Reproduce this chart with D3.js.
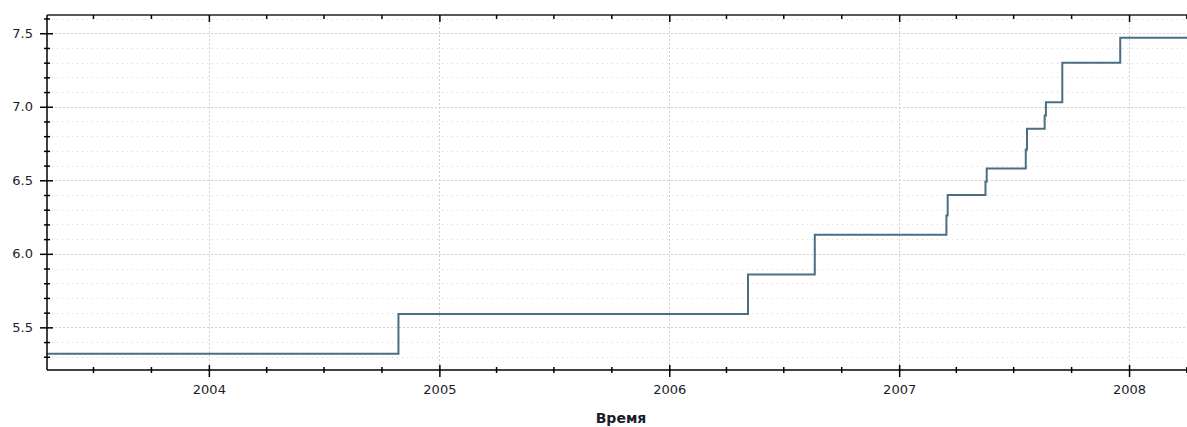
<!DOCTYPE html>
<html>
<head>
<meta charset="utf-8">
<script src="https://cdn.jsdelivr.net/npm/d3@7"></script>
<style>
  html, body { margin: 0; padding: 0; background: #fff; }
  svg { display: block; }
  text { font-family: "DejaVu Sans", Verdana, sans-serif; }
</style>
</head>
<body>
<svg id="chart" width="1187" height="427"></svg>
<script>
// Step series: date of change and the new value
const dates = ["2003-04-19", "2004-10-28", "2006-05-06", "2006-08-20", "2007-03-17", "2007-03-19",
               "2007-05-18", "2007-05-20", "2007-07-21", "2007-07-23", "2007-08-20", "2007-08-22",
               "2007-09-17", "2007-12-18", "2008-04-02"];
const values = [5.32, 5.59, 5.86, 6.13, 6.26, 6.40, 6.49, 6.58, 6.71, 6.85, 6.94, 7.03, 7.30, 7.47, 7.47];
const yTickLabels = ["5.5", "6.0", "6.5", "7.0", "7.5"];
const xTickLabels = ["2004", "2005", "2006", "2007", "2008"];
const xAxisTitle = "Время";

(function () {
const parse = d3.timeParse("%Y-%m-%d");
const data = dates.map((d, i) => ({ date: parse(d), value: values[i] }));

const pLeft = 47, pRight = 1187, pTop = 15, pBottom = 370;

const svg = d3.select("#chart");

const x = d3.scaleTime()
  .domain([parse("2003-04-19"), parse("2008-04-02")])
  .range([pLeft, pRight]);
const y = d3.scaleLinear()
  .domain([5.21, 7.624])
  .range([pBottom, pTop]);

const majorY = yTickLabels.map(Number);
const minorY = d3.range(53, 77).map(v => v / 10).filter(v => y(v) >= pTop && y(v) <= pBottom && !majorY.some(m => Math.abs(m - v) < 1e-6));
const majorX = xTickLabels.map(s => new Date(+s, 0, 1));
const minorX = d3.timeMonth.every(3).range(x.domain()[0], x.domain()[1]).filter(d => d.getMonth() !== 0);

// grid
const grid = svg.append("g");
grid.selectAll("line.ymin").data(minorY).join("line")
  .attr("x1", pLeft).attr("x2", pRight)
  .attr("y1", d => Math.round(y(d)) + 0.5).attr("y2", d => Math.round(y(d)) + 0.5)
  .attr("stroke", "#d6d6d6").attr("stroke-width", 1).attr("stroke-dasharray", "1,4");
grid.selectAll("line.ymaj").data(majorY).join("line")
  .attr("x1", pLeft).attr("x2", pRight)
  .attr("y1", d => Math.round(y(d)) + 0.5).attr("y2", d => Math.round(y(d)) + 0.5)
  .attr("stroke", "#d0d0d0").attr("stroke-width", 1).attr("stroke-dasharray", "2,2");
grid.selectAll("line.xmaj").data(majorX).join("line")
  .attr("x1", d => Math.round(x(d)) + 0.5).attr("x2", d => Math.round(x(d)) + 0.5)
  .attr("y1", pTop).attr("y2", pBottom)
  .attr("stroke", "#d0d0d0").attr("stroke-width", 1).attr("stroke-dasharray", "2,2");

// line
const line = d3.line()
  .x(d => x(d.date))
  .y(d => y(d.value))
  .curve(d3.curveStepAfter);
svg.append("path").datum(data)
  .attr("fill", "none")
  .attr("stroke", "#4a6e82")
  .attr("stroke-width", 2)
  .attr("d", line);

// left axis - major
const yAxis = svg.append("g").attr("transform", `translate(${pLeft},0)`)
  .call(d3.axisLeft(y).tickValues(majorY).tickFormat(d3.format(".1f")).tickSize(7).tickPadding(7));
yAxis.select(".domain").attr("stroke", "#000").attr("stroke-width", 1.5).attr("d", `M0,${pTop}V${pBottom}`);
yAxis.selectAll(".tick line").attr("x1", 6).attr("x2", -7).attr("stroke", "#000").attr("stroke-width", 1.5);
yAxis.selectAll(".tick text").attr("fill", "#1c1c2a").style("font-size", "13px").attr("x", -14);
// left axis - minor
const yMinor = svg.append("g").attr("transform", `translate(${pLeft},0)`)
  .call(d3.axisLeft(y).tickValues(minorY).tickFormat("").tickSize(3));
yMinor.select(".domain").remove();
yMinor.selectAll(".tick line").attr("x1", 3).attr("x2", -3).attr("stroke", "#000").attr("stroke-width", 1.5);

// bottom axis - major
const xAxis = svg.append("g").attr("transform", `translate(0,${pBottom})`)
  .call(d3.axisBottom(x).tickValues(majorX).tickFormat(d3.timeFormat("%Y")).tickSize(7).tickPadding(10));
xAxis.select(".domain").attr("stroke", "#000").attr("stroke-width", 1.5).attr("d", `M${pLeft},0H${pRight}`);
xAxis.selectAll(".tick line").attr("y1", -5).attr("y2", 7).attr("stroke", "#000").attr("stroke-width", 1.5);
xAxis.selectAll(".tick text").attr("fill", "#1c1c2a").style("font-size", "13px").attr("y", 15);
// bottom axis - minor
const xMinor = svg.append("g").attr("transform", `translate(0,${pBottom})`)
  .call(d3.axisBottom(x).tickValues(minorX).tickFormat("").tickSize(3));
xMinor.select(".domain").remove();
xMinor.selectAll(".tick line").attr("y1", -3).attr("y2", 3).attr("stroke", "#000").attr("stroke-width", 1.5);

// top border with inward ticks
const xTop = svg.append("g").attr("transform", `translate(0,${pTop})`)
  .call(d3.axisTop(x).tickValues(majorX).tickFormat("").tickSize(7));
xTop.select(".domain").attr("stroke", "#222").attr("stroke-width", 1.5).attr("d", `M${pLeft},0H${pRight}`);
xTop.selectAll(".tick line").attr("y1", 0).attr("y2", 7).attr("stroke", "#000").attr("stroke-width", 1.5);
const xTopMinor = svg.append("g").attr("transform", `translate(0,${pTop})`)
  .call(d3.axisTop(x).tickValues(minorX).tickFormat("").tickSize(4));
xTopMinor.select(".domain").remove();
xTopMinor.selectAll(".tick line").attr("y1", 0).attr("y2", 4).attr("stroke", "#000").attr("stroke-width", 1.5);

// axis title
svg.append("text")
  .attr("x", 621).attr("y", 423)
  .attr("text-anchor", "middle")
  .attr("fill", "#1c1c2a")
  .style("font-size", "14px")
  .style("font-weight", "bold")
  .text(xAxisTitle);
})();
</script>
</body>
</html>
